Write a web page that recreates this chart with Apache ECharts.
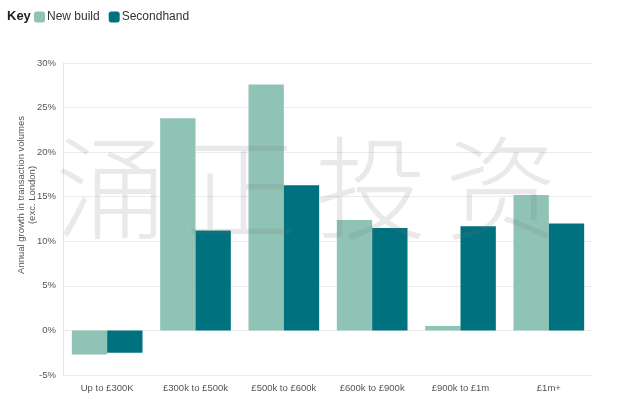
<!DOCTYPE html>
<html><head><meta charset="utf-8">
<script src="https://cdn.jsdelivr.net/npm/echarts@6/dist/echarts.min.js"></script>
<style>html,body{margin:0;padding:0;background:#fff}#c{width:618px;height:404px}</style>
</head><body><div id="c"></div>
<script>
const categories = ['Up to £300K','£300k to £500k','£500k to £600k','£600k to £900k','£900k to £1m','£1m+'];
const newBuild = [-2.7, 23.8, 27.6, 12.4, 0.5, 15.2];
const secondhand = [-2.5, 11.2, 16.3, 11.5, 11.7, 12.0];
const seriesNames = ['New build','Secondhand'];
const yTicks = [-5, 0, 5, 10, 15, 20, 25, 30];
const yAxisTitle = 'Annual growth in transaction volumes\n(exc. London)';
const watermark = ['涌','正','投','资'];

const chart = echarts.init(document.getElementById('c'));
const font = 'Liberation Sans, Arial, sans-serif';
const wmGraphics = watermark.map((ch, i) => ({
  type: 'text', left: 55 + i * 130, top: 132, z: 100, silent: true,
  style: { text: ch, font: '300 112px "Noto Sans CJK SC"', fill: 'rgba(120,120,120,0.16)' }
}));
chart.setOption({
  animation: false,
  textStyle: { fontFamily: font },
  grid: { left: 63, right: 25, top: 63, bottom: 29, containLabel: false, outerBoundsMode: 'none' },
  legend: {
    left: 29, top: 6, itemWidth: 11, itemHeight: 11, itemGap: 9,
    textStyle: { fontSize: 12, color: '#333', fontFamily: font, padding: [0, 0, 0, -3] },
    data: seriesNames
  },
  graphic: [{
    type: 'text', left: 7, top: 10,
    style: { text: 'Key', font: 'bold 13px ' + font, fill: '#222' }
  }, {
    type: 'text', x: 27, y: 195, rotation: Math.PI / 2,
    style: { text: yAxisTitle, font: '9.5px ' + font, fill: '#555', align: 'center', verticalAlign: 'middle', lineHeight: 11 }
  }].concat(wmGraphics),
  xAxis: {
    type: 'category', data: categories,
    axisLine: { show: false }, axisTick: { show: false },
    axisLabel: { fontSize: 9.5, color: '#555', margin: 8 }
  },
  yAxis: {
    type: 'value', min: yTicks[0], max: yTicks[yTicks.length - 1], interval: 5,
    axisLine: { show: true, lineStyle: { color: '#e4e4e4' } },
    axisTick: { show: false },
    axisLabel: { fontSize: 9.5, color: '#555', formatter: v => v + '%', margin: 7 },
    splitLine: { lineStyle: { color: '#ebebeb' } }
  },
  series: [
    { name: seriesNames[0], type: 'bar', data: newBuild, itemStyle: { color: '#8ec3b6' },
      barGap: '0%', barCategoryGap: '20%' },
    { name: seriesNames[1], type: 'bar', data: secondhand, itemStyle: { color: '#00717f' },
      barGap: '0%', barCategoryGap: '20%' }
  ]
});
</script></body></html>
